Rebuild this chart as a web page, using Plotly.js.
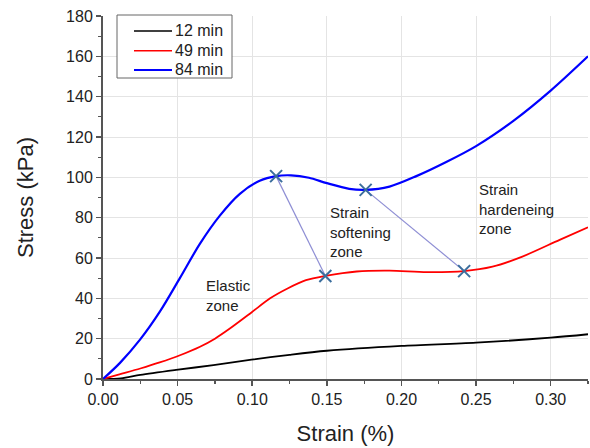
<!DOCTYPE html>
<html>
<head>
<meta charset="utf-8">
<script src="https://cdn.plot.ly/plotly-3.0.1.min.js"></script>
<style>
  html, body { margin: 0; padding: 0; background: #fff; }
  #chart { width: 590px; height: 448px; }
</style>
</head>
<body>
<div id="chart"></div>
<script>
// Stress–strain curves at three curing times
const strain12 = [0, 0.012, 0.025, 0.049, 0.074, 0.0995, 0.125, 0.150, 0.200, 0.250, 0.300, 0.325];
const stress12 = [0, 0.3, 2.0, 4.5, 6.9, 9.6, 12.0, 14.0, 16.4, 18.0, 20.5, 22.2];

const strain49 = [0, 0.011, 0.025, 0.038, 0.052, 0.065, 0.075, 0.085, 0.0995, 0.112, 0.124, 0.136, 0.149, 0.170, 0.192, 0.217, 0.242, 0.261, 0.281, 0.306, 0.325];
const stress49 = [0, 2.3, 5.2, 8.2, 11.9, 16.0, 20.0, 25.0, 33.0, 40.0, 45.0, 49.0, 51.1, 53.3, 53.7, 53.0, 53.5, 55.7, 60.7, 69.0, 75.2];

const strain84 = [0, 0.0114, 0.0248, 0.0382, 0.0515, 0.0649, 0.0783, 0.0917, 0.105, 0.116, 0.126, 0.138, 0.150, 0.165, 0.176, 0.192, 0.210, 0.230, 0.250, 0.275, 0.300, 0.325];
const stress84 = [0, 8.0, 19.5, 33.5, 50.0, 67.0, 81.0, 91.8, 98.3, 100.6, 101.0, 99.8, 97.1, 94.3, 93.8, 95.4, 100.6, 107.6, 115.5, 128.0, 143.0, 160.0];

const seriesNames = ['12 min', '49 min', '84 min'];
const seriesColors = ['#000000', '#ff0000', '#0000ff'];

// Zone transition points: onset of softening and onset of hardening
const softenStart = { x: [0.116, 0.149], y: [100.6, 51.1] };
const hardenStart = { x: [0.176, 0.242], y: [93.8, 53.5] };

// Zone labels
const zoneText = ['Elastic<br>zone', 'Strain<br>softening<br>zone', 'Strain<br>hardeneing<br>zone'];
const zoneX = [0.068, 0.1505, 0.2503];
const zoneY = [41.5, 73.1, 84.4];

const font = 'Arial, "Liberation Sans", sans-serif';
const axisColor = '#555';

const W = 590, H = 448;
const M = { l: 103, r: 2, t: 16, b: 69 };
// pixel position -> paper fraction
const px = (x) => (x - M.l) / (W - M.l - M.r);
const py = (y) => (H - M.b - y) / (H - M.t - M.b);

const curve = (x, y, name, color, width) => ({
  x, y, name, type: 'scatter', mode: 'lines', showlegend: false,
  line: { color, width, shape: 'spline', smoothing: 0.85 }
});

const connector = (pts) => ({
  x: pts.x, y: pts.y, type: 'scatter', mode: 'lines+markers', showlegend: false,
  hoverinfo: 'skip',
  line: { color: '#8e8ed4', width: 1.2 },
  marker: { symbol: 'x-thin', size: 12, color: '#3b6e9d', line: { color: '#3b6e9d', width: 2 } }
});

const traces = [
  curve(strain12, stress12, seriesNames[0], seriesColors[0], 1.8),
  curve(strain49, stress49, seriesNames[1], seriesColors[1], 1.8),
  curve(strain84, stress84, seriesNames[2], seriesColors[2], 2.2),
  connector(softenStart),
  connector(hardenStart)
];

// Legend box drawn with shapes and text
const legendRows = [31, 50.7, 70];
const shapes = [
  { type: 'rect', xref: 'paper', yref: 'paper', x0: px(117), x1: px(232), y0: py(15), y1: py(78),
    fillcolor: '#fff', line: { color: '#666', width: 1 }, layer: 'above' }
].concat(seriesNames.map((n, i) => ({
  type: 'line', xref: 'paper', yref: 'paper', x0: px(134), x1: px(172), y0: py(legendRows[i]), y1: py(legendRows[i]),
  line: { color: seriesColors[i], width: i === 2 ? 2 : 1.6 }, layer: 'above'
})));

const annotations = zoneText.map((t, i) => ({
  x: zoneX[i], y: zoneY[i], xref: 'x', yref: 'y', text: t,
  showarrow: false, xanchor: 'left', yanchor: 'middle', align: 'left',
  font: { size: 15, color: '#222', family: font }
})).concat(seriesNames.map((n, i) => ({
  x: px(173), y: py(legendRows[i]), xref: 'paper', yref: 'paper', text: n,
  showarrow: false, xanchor: 'left', yanchor: 'middle',
  font: { size: 16, color: '#222', family: font }
})));

const layout = {
  width: W, height: H,
  margin: M,
  paper_bgcolor: '#fff', plot_bgcolor: '#fff',
  font: { family: font, color: '#222', size: 16 },
  showlegend: false,
  xaxis: {
    range: [0, 0.325], dtick: 0.05, tickformat: '.2f',
    showline: true, linecolor: axisColor, linewidth: 2,
    ticks: 'outside', ticklen: 5, tickwidth: 1.5, tickcolor: axisColor,
    minor: { ticks: 'outside', ticklen: 3, dtick: 0.025, tickcolor: axisColor, tickwidth: 1.2, showgrid: false },
    showgrid: true, gridcolor: '#e4e4e4', gridwidth: 1, zeroline: false,
    tickfont: { size: 16, color: '#222' },
    title: { text: 'Strain (%)', font: { size: 22, color: '#222' }, standoff: 18 }
  },
  yaxis: {
    range: [0, 180], dtick: 20,
    showline: true, linecolor: axisColor, linewidth: 2,
    ticks: 'outside', ticklen: 5, tickwidth: 1.5, tickcolor: axisColor,
    minor: { ticks: 'outside', ticklen: 3, dtick: 10, tickcolor: axisColor, tickwidth: 1.2, showgrid: false },
    showgrid: true, gridcolor: '#e4e4e4', gridwidth: 1, zeroline: false,
    tickfont: { size: 16, color: '#222' },
    title: { text: 'Stress (kPa)', font: { size: 22, color: '#222' }, standoff: 26 }
  },
  shapes,
  annotations
};

Plotly.newPlot('chart', traces, layout, { displayModeBar: false, staticPlot: true });
</script>
</body>
</html>
